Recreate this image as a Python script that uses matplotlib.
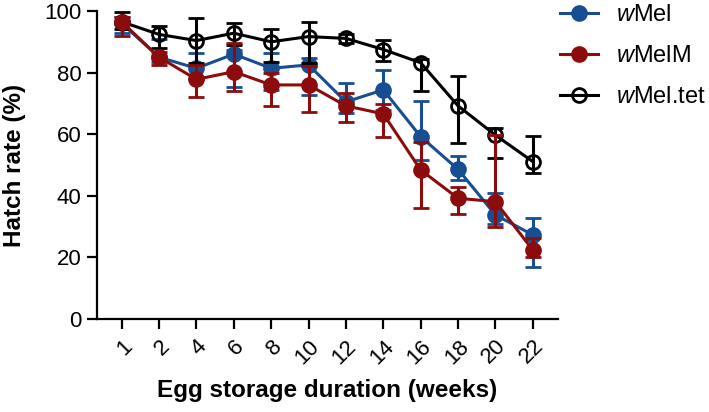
import numpy as np
import matplotlib
matplotlib.use('Agg')
import matplotlib.pyplot as plt

plt.rcParams['font.family'] = ['Liberation Sans', 'DejaVu Sans']
plt.rcParams['mathtext.fontset'] = 'custom'
plt.rcParams['mathtext.rm'] = 'Liberation Sans'
plt.rcParams['mathtext.it'] = 'Liberation Sans:italic'

# ── data ───────────────────────────────────────────────────────────
weeks = ['1', '2', '4', '6', '8', '10', '12', '14', '16', '18', '20', '22']

wmel_mean  = [96.0, 85.0, 81.4, 86.0, 81.4, 82.5, 70.5, 74.4, 59.2, 48.6, 33.8, 27.3]
wmel_hi    = [98.0, 91.0, 86.5, 87.5, 86.5, 84.7, 76.5, 81.0, 70.9, 52.9, 41.0, 32.7]
wmel_lo    = [93.0, 83.5, 78.0, 75.2, 74.4, 72.7, 66.8, 68.0, 51.6, 45.0, 30.8, 17.0]

wmelm_mean = [96.5, 85.0, 77.8, 80.3, 76.0, 76.0, 69.2, 66.6, 48.4, 39.2, 38.1, 22.4]
wmelm_hi   = [98.0, 86.8, 82.5, 89.7, 80.0, 82.0, 73.5, 69.8, 57.6, 43.0, 59.7, 26.2]
wmelm_lo   = [92.0, 82.5, 72.2, 74.0, 69.0, 67.3, 64.0, 59.0, 35.9, 34.0, 29.8, 20.0]

tet_mean   = [96.5, 92.4, 90.4, 92.8, 90.0, 91.7, 91.1, 87.5, 83.2, 69.2, 59.7, 51.1]
tet_hi     = [99.7, 95.0, 97.6, 96.2, 94.3, 96.5, 92.5, 90.6, 84.5, 78.9, 62.0, 59.5]
tet_lo     = [94.0, 88.0, 83.0, 89.0, 83.5, 83.0, 89.5, 83.9, 74.1, 57.2, 52.2, 47.5]

BLUE = '#174e92'
RED  = '#8c0c0c'
BLACK = '#000000'

fig = plt.figure(figsize=(7.09, 4.12), dpi=100)
ax = fig.add_axes([0.1368, 0.2257, 0.650, 0.7476])
x = np.arange(len(weeks))

def yerr(mean, lo, hi):
    mean = np.array(mean); lo = np.array(lo); hi = np.array(hi)
    return [mean - lo, hi - mean]

series = [
    ('$\\it{w}$Mel',     wmel_mean,  wmel_lo,  wmel_hi,  BLUE,  BLUE,   1),
    ('$\\it{w}$Mel.tet', tet_mean,   tet_lo,   tet_hi,   BLACK, 'none', 2),
    ('$\\it{w}$MelM',    wmelm_mean, wmelm_lo, wmelm_hi, RED,   RED,    3),
]
for lab, m, lo, hi, col, fc, z in series:
    ax.errorbar(x, m, yerr=yerr(m, lo, hi), color=col, lw=2.2,
                marker='o', ms=10, mfc=fc, mec=col, mew=2,
                capsize=6, capthick=2.2, elinewidth=2.2, zorder=z,
                clip_on=False)

ax.set_xlim(-0.66, 11.67)
ax.set_ylim(0, 100)
ax.set_yticks(range(0, 101, 20))
ax.set_xticks(x)
ax.set_xticklabels(weeks, rotation=45, ha='right', rotation_mode='anchor')
ax.tick_params(labelsize=16, width=1.6, length=7, direction='out')
ax.tick_params(axis='x', pad=5)
ax.tick_params(axis='y', pad=4)
for s in ['top', 'right']:
    ax.spines[s].set_visible(False)
for s in ['left', 'bottom']:
    ax.spines[s].set_linewidth(1.6)

ax.set_ylabel('Hatch rate (%)', fontsize=17.5, fontweight='bold', labelpad=13)
ax.set_xlabel('Egg storage duration (weeks)', fontsize=17.5, fontweight='bold', labelpad=8)

order = ['$\\it{w}$Mel', '$\\it{w}$MelM', '$\\it{w}$Mel.tet']
leg_h = []
for lab in order:
    for l2, m, lo, hi, col, fc, z in series:
        if l2 == lab:
            leg_h.append(plt.Line2D([], [], color=col, lw=2.2, marker='o', ms=10,
                                    mfc=fc, mec=col, mew=2))
fig.legend(leg_h, order, loc='upper left', bbox_to_anchor=(0.790, 0.99),
           frameon=False, fontsize=17, handlelength=1.6, labelspacing=0.8,
           handletextpad=0.75, borderpad=0, borderaxespad=0)

fig.savefig('out.png', dpi=100)
